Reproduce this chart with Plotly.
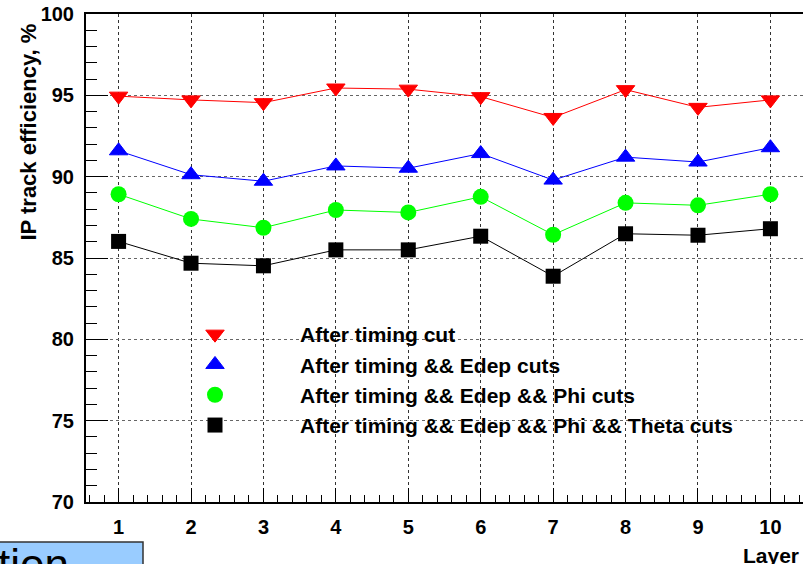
import plotly.graph_objects as go

layers = [1, 2, 3, 4, 5, 6, 7, 8, 9, 10]
timing = [94.95, 94.72, 94.55, 95.45, 95.38, 94.92, 93.64, 95.35, 94.26, 94.72]
timing_edep = [91.59, 90.12, 89.72, 90.66, 90.52, 91.42, 89.79, 91.2, 90.9, 91.78]
timing_edep_phi = [88.92, 87.4, 86.86, 87.95, 87.8, 88.76, 86.43, 88.39, 88.24, 88.92]
timing_edep_phi_theta = [86.02, 84.68, 84.52, 85.5, 85.5, 86.34, 83.88, 86.49, 86.4, 86.8]

series_names = [
    "After timing cut",
    "After timing && Edep cuts",
    "After timing && Edep && Phi cuts",
    "After timing && Edep && Phi && Theta cuts",
]
series_values = [timing, timing_edep, timing_edep_phi, timing_edep_phi_theta]
series_colors = ["#ff0000", "#0000ff", "#00ff00", "#000000"]
series_symbols = ["triangle-down", "triangle-up", "circle", "square"]
series_sizes = [16, 16, 16, 15]
series_outline = [1, 1, 0, 0]

W, H = 803, 564
ML, MR, MT, MB = 86, 0, 14, 62
PW, PH = W - ML - MR, H - MT - MB

def px_x(p):
    return (p - ML) / PW

def px_y(p):
    return (H - MB - p) / PH

FONT = "Liberation Sans, Arial, Helvetica, sans-serif"

fig = go.Figure()
for name, vals, col, sym, sz, lw in zip(series_names, series_values, series_colors,
                                        series_symbols, series_sizes, series_outline):
    fig.add_trace(go.Scatter(
        x=layers, y=vals, name=name, mode="lines+markers",
        line=dict(color=col, width=1),
        marker=dict(color=col, symbol=sym, size=sz, line=dict(color=col, width=lw)),
        showlegend=False,
    ))
# legend entries show only the marker (ROOT "P" option)
for name, col, sym, sz, lw in zip(series_names, series_colors, series_symbols,
                                   series_sizes, series_outline):
    fig.add_trace(go.Scatter(
        x=[None], y=[None], name=name, mode="markers",
        marker=dict(color=col, symbol=sym, size=sz, line=dict(color=col, width=lw)),
        showlegend=True,
    ))

fig.update_layout(
    width=W, height=H,
    margin=dict(l=ML, r=MR, t=MT, b=MB, pad=0, autoexpand=False),
    paper_bgcolor="white", plot_bgcolor="white",
    font=dict(family=FONT, color="black", size=20, weight="bold"),
    showlegend=True,
    hovermode=False,
    legend=dict(
        x=px_x(130), y=px_y(314), xanchor="left", yanchor="top",
        bgcolor="rgba(0,0,0,0)", borderwidth=0,
        font=dict(family=FONT, size=21, weight="bold", color="black"),
        itemwidth=160, tracegroupgap=0,
    ),
)

fig.update_xaxes(
    range=[0.55, 10.45], tick0=0, dtick=1,
    ticks="inside", ticklen=14, tickwidth=1, tickcolor="black",
    minor=dict(dtick=0.2, tick0=0, ticks="inside", ticklen=7, tickcolor="black", showgrid=False),
    showline=True, linecolor="black", linewidth=2, mirror=True,
    showgrid=True, gridcolor="#333333", griddash="dot", gridwidth=1,
    zeroline=False, automargin=False,
    tickfont=dict(family=FONT, size=20, weight="bold"),
    ticklabelstandoff=6,
)
fig.update_yaxes(
    range=[70, 100], tick0=70, dtick=5,
    ticks="inside", ticklen=22, tickwidth=1, tickcolor="black",
    minor=dict(dtick=1, tick0=70, ticks="inside", ticklen=11, tickcolor="black", showgrid=False),
    showline=True, linecolor="black", linewidth=2, mirror=False,
    showgrid=True, gridcolor="#666666", griddash="dot", gridwidth=1,
    zeroline=False, automargin=False,
    tickfont=dict(family=FONT, size=20, weight="bold"),
    ticklabelstandoff=6,
)

# axis titles (ROOT style: aligned at the axis end)
fig.add_annotation(
    text="IP track efficiency, %", textangle=-90,
    xref="paper", yref="paper", x=px_x(28), y=px_y(22),
    xanchor="center", yanchor="top", showarrow=False,
    font=dict(family=FONT, size=22, weight="bold"),
)
fig.add_annotation(
    text="Layer",
    xref="paper", yref="paper", x=px_x(801), y=px_y(555),
    xanchor="right", yanchor="middle", showarrow=False,
    font=dict(family=FONT, size=21, weight="bold"),
)

# cropped slide element at the bottom-left
fig.add_shape(
    type="rect", xref="paper", yref="paper",
    x0=px_x(-5), x1=px_x(143), y0=px_y(580), y1=px_y(542),
    fillcolor="#99ccff", line=dict(color="#333333", width=1.5), layer="above",
)
fig.add_annotation(
    text="tion",
    xref="paper", yref="paper", x=px_x(-4), y=px_y(538),
    xanchor="left", yanchor="top", showarrow=False,
    font=dict(family="Liberation Sans, Arial, sans-serif", size=44, color="black",
              weight="normal"),
)

fig.write_html(
    "out.html",
    config={"displayModeBar": False, "staticPlot": True},
    post_script="document.body.style.margin='0';document.body.style.overflow='hidden';",
)
